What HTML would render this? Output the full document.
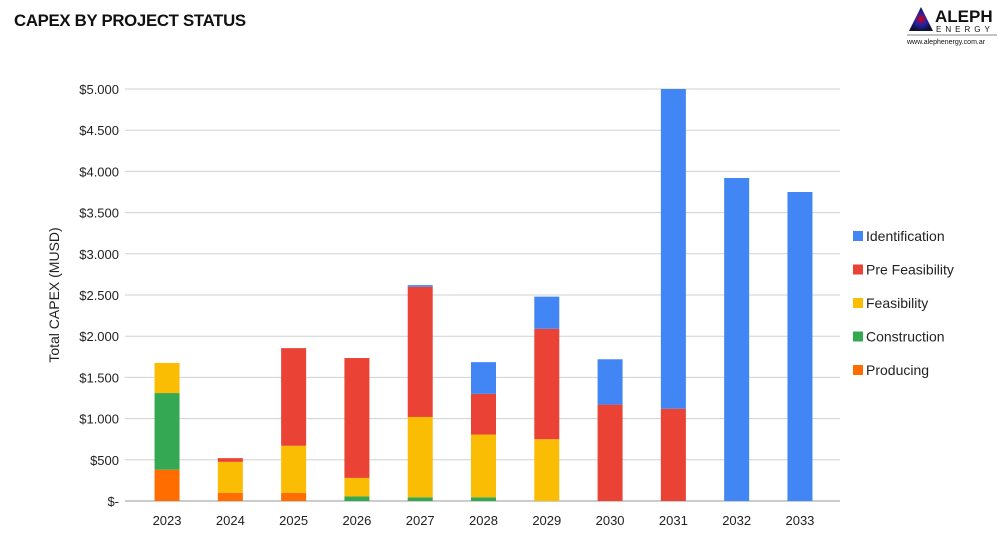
<!DOCTYPE html>
<html><head><meta charset="utf-8"><style>
body{margin:0;background:#fff;font-family:"Liberation Sans",sans-serif;}
</style></head><body>
<div style="position:relative;width:1000px;height:535px;overflow:hidden">
<div style="position:absolute;left:14px;top:11px;font-size:16.8px;font-weight:bold;color:#111;letter-spacing:-0.3px">CAPEX BY PROJECT STATUS</div>
<div style="position:absolute;left:905px;top:4px;width:92px;height:42px">
<svg width="92" height="42"><defs><radialGradient id="g"><stop offset="0" stop-color="#d00"/><stop offset="0.5" stop-color="#22a"/><stop offset="1" stop-color="#113"/></radialGradient></defs>
<polygon points="4,27 16,3 28,27" fill="url(#g)"/>
<text x="30" y="18" font-size="17" font-weight="bold" font-family="Liberation Sans" fill="#111">ALEPH</text>
<text x="31" y="28" font-size="8" font-family="Liberation Sans" letter-spacing="4" fill="#111">ENERGY</text>
<line x1="2" y1="31" x2="92" y2="31" stroke="#888" stroke-width="1"/>
<text x="2" y="40" font-size="7" font-family="Liberation Sans" fill="#111">www.alephenergy.com.ar</text></svg></div>
<svg id="chart" width="1000" height="535" style="position:absolute;left:0;top:0"></svg>
</div>
<script>
const categories=["2023","2024","2025","2026","2027","2028","2029","2030","2031","2032","2033"];
const producing=[380,100,100,0,0,0,0,0,0,0,0];
const construction=[930,0,0,55,45,45,0,0,0,0,0];
const feasibility=[365,375,570,225,975,761,750,0,0,0,0];
const preFeasibility=[0,45,1185,1455,1580,494,1340,1170,1120,0,0];
const identification=[0,0,0,0,20,385,390,550,3880,3920,3750];
const tickValues=[0,500,1000,1500,2000,2500,3000,3500,4000,4500,5000];
const tickLabels=["$-","$500","$1.000","$1.500","$2.000","$2.500","$3.000","$3.500","$4.000","$4.500","$5.000"];
const seriesNames=["Producing","Construction","Feasibility","Pre Feasibility","Identification"];
const seriesData=[producing,construction,feasibility,preFeasibility,identification];
const colors=["#ff6d01","#34a853","#fbbc04","#ea4335","#4285f4"];
const svg=document.getElementById('chart');
const NS="http://www.w3.org/2000/svg";
const gx0=125,gx1=840,x0=135.4,x1=831.6,yBase=501,yTop=89,maxV=5000;
const y=v=>yBase-(v/maxV)*(yBase-yTop);
const step=(x1-x0)/categories.length;
const xc=i=>x0+step*(i+0.5);
function mk(t,a){const e=document.createElementNS(NS,t);for(const k in a)e.setAttribute(k,a[k]);svg.appendChild(e);return e;}
tickValues.forEach((v,i)=>{
 const l=mk('line',{x1:gx0,x2:gx1,y1:y(v),y2:y(v),stroke:i==0?'#999':'#d0d0d0','stroke-width':1});
 
 
 const t=mk('text',{x:119,y:y(v)+5,'text-anchor':'end','font-size':13,fill:'#222','font-family':'Liberation Sans'});
 t.textContent=tickLabels[i];
 
 
});
categories.forEach((c,i)=>{
 let acc=0;
 seriesData.forEach((s,j)=>{
  const v=s[i]; if(!v)return;
  const r=mk('rect',{x:xc(i)-12.5,width:25,y:y(acc+v),height:y(acc)-y(acc+v),fill:colors[j]});
  
  
  acc+=v;
 });
 const t=mk('text',{x:xc(i),y:525,'text-anchor':'middle','font-size':13,fill:'#222','font-family':'Liberation Sans'});
 t.textContent=c;
 
 
});
const yt=mk('text',{x:0,y:0,transform:'translate(59,295) rotate(-90)','text-anchor':'middle','font-size':14,fill:'#222','font-family':'Liberation Sans'});
yt.textContent='Total CAPEX (MUSD)';


for(let j=4;j>=0;j--){
 const ly=236+(4-j)*33.5;
 const r=mk('rect',{x:853,y:ly-5,width:10,height:10,fill:colors[j]});
 
 
 const t=mk('text',{x:866,y:ly+5,'font-size':14,fill:'#222','font-family':'Liberation Sans'});
 t.textContent=seriesNames[j];
 
 
}
</script>
</body></html>
